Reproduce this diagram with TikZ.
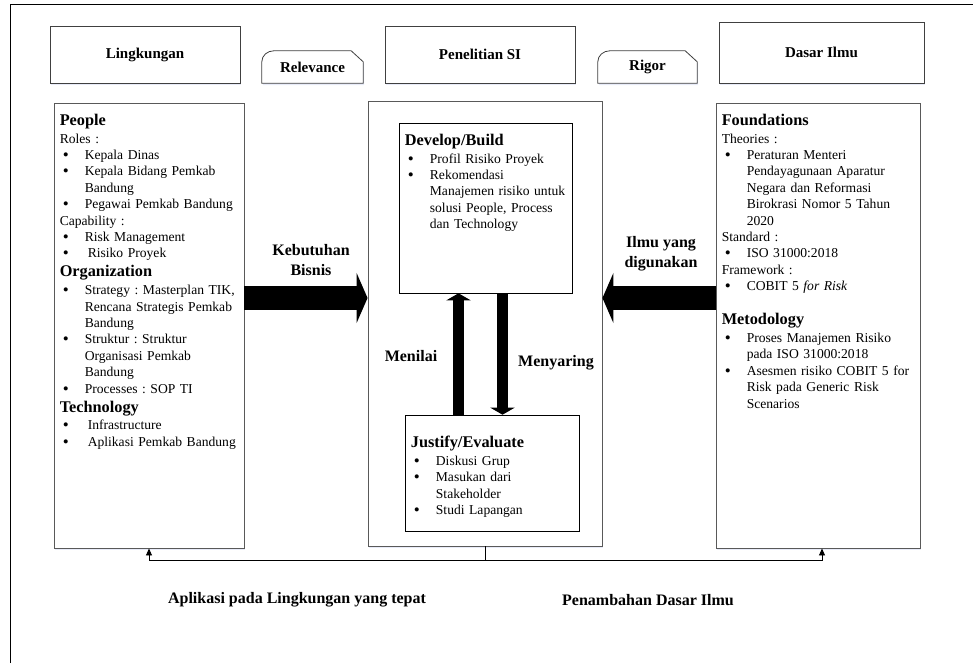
\documentclass[tikz,border=0pt]{standalone}
\usepackage{fontspec}
\setmainfont{Liberation Serif}
\usepackage{tikz}
\usetikzlibrary{arrows.meta, shadows, backgrounds}
\setlength{\parindent}{0pt}
\frenchspacing
\newcommand{\bodyfont}{\fontsize{13.6}{16.4}\selectfont}
\newcommand{\hd}[1]{\par{\fontsize{16.3}{19}\selectfont\bfseries #1\par}\vspace{1.4pt}}
\newcommand{\itm}[2][0pt]{\par\hangindent=25pt\hangafter=1\leavevmode\hspace*{3pt}\makebox[22pt][l]{\raisebox{-1.1pt}{\fontsize{17}{0}\selectfont\textbullet}}\hspace*{#1}#2}

\tikzset{
	soft/.style={drop shadow={shadow xshift=1pt, shadow yshift=-2pt, fill=cyan!40!blue!20, opacity=0.45}},
	topbox/.style={draw=black!75, line width=0.8pt, fill=white, soft, inner sep=0pt, font=\fontsize{15}{18}\selectfont\bfseries},
	tabtxt/.style={inner sep=0pt, font=\fontsize{15}{18}\selectfont\bfseries},
	tabshape/.style={draw=black!75, line width=0.8pt, fill=white, soft},
	bigbox/.style={draw=black!65, line width=0.9pt, fill=white, soft, inner sep=0pt},
	innerbox/.style={draw=black, line width=0.6pt, fill=white, inner sep=0pt},
	boxtext/.style={anchor=north west, inner sep=0pt, text width=210pt, align=left, font=\bodyfont},
	lbl/.style={inner sep=0pt, align=center, font=\fontsize{16}{20}\selectfont\bfseries},
	bigarrow/.style={line width=24pt, -{Triangle[width=50pt,length=11pt]}},
	midarrow/.style={line width=11pt, -{Triangle[width=24pt,length=7pt]}},
	bus/.style={line width=0.9pt, -{Triangle[width=6pt,length=7pt]}}
}

\begin{document}
\begin{tikzpicture}[x=1pt, y=-1pt]
	\useasboundingbox (0,0) rectangle (973,663);
	\draw [line width=1pt] (10,663) -- (10,5) -- (973,5);

	\path (145,54.5) node[topbox, minimum width=190pt, minimum height=57pt] (ling) {Lingkungan};
	\path (480,54.5) node[topbox, minimum width=190pt, minimum height=57pt] (pen) {Penelitian SI};
	\path (821.5,52.5) node[topbox, minimum width=205pt, minimum height=61pt] (dasar) {Dasar Ilmu};
	\path (312.5,67) node[tabtxt, minimum width=101pt, minimum height=32pt] (rel) {Relevance};
	\path (647.5,67) node[tabtxt, minimum width=99pt, minimum height=32pt] (rig) {Rigor};
	\begin{scope}[on background layer]
		\foreach \t in {rel, rig}
			\draw [tabshape] (\t.south west) -- ([yshift=-11pt]\t.north west) to[out=90, in=180] ([xshift=12pt]\t.north west)
				-- ([xshift=-12pt]\t.north east) -- ([yshift=-11pt]\t.north east) -- (\t.south east) -- cycle;
	\end{scope}

	\path (149,325.5) node[bigbox, minimum width=190pt, minimum height=445pt] (people) {};
	\path (485,323.5) node[bigbox, minimum width=234pt, minimum height=445pt] (ctr) {};
	\path (818,325.5) node[bigbox, minimum width=204pt, minimum height=445pt] (found) {};
	\path (485.5,208) node[innerbox, minimum width=173pt, minimum height=170pt] (dev) {};
	\path (492,473) node[innerbox, minimum width=174pt, minimum height=116pt] (just) {};

	\node[boxtext] (peopletxt) at ([xshift=6pt, yshift=-3.5pt]people.north west) {%
		\hd{People}
		\par Roles :
		\itm{Kepala Dinas}
		\itm{Kepala Bidang Pemkab\newline Bandung}
		\itm{Pegawai Pemkab Bandung}
		\par Capability :
		\itm{Risk Management}
		\itm[3pt]{Risiko Proyek}
		\hd{Organization}
		\itm{Strategy : Masterplan TIK,\newline Rencana Strategis Pemkab\newline Bandung}
		\itm{Struktur : Struktur\newline Organisasi Pemkab\newline Bandung}
		\itm{Processes : SOP TI}
		\hd{Technology}
		\itm[3pt]{Infrastructure}
		\itm[3pt]{Aplikasi Pemkab Bandung}\par};
	\node[boxtext] (devtxt) at ([xshift=6pt, yshift=-3.5pt]dev.north west) {%
		\hd{Develop/Build}
		\itm{Profil Risiko Proyek}
		\itm{Rekomendasi\newline Manajemen risiko untuk\newline solusi People, Process\newline dan Technology}\par};
	\node[boxtext] (justtxt) at ([xshift=6pt, yshift=-13.5pt]just.north west) {%
		\hd{Justify/Evaluate}
		\itm{Diskusi Grup}
		\itm{Masukan dari\newline Stakeholder}
		\itm{Studi Lapangan}\par};
	\node[boxtext] (foundtxt) at ([xshift=6pt, yshift=-3.5pt]found.north west) {%
		\hd{Foundations}
		\par Theories :
		\itm{Peraturan Menteri\newline Pendayagunaan Aparatur\newline Negara dan Reformasi\newline Birokrasi Nomor 5 Tahun\newline 2020}
		\par Standard :
		\itm{ISO 31000:2018}
		\par Framework :
		\itm{COBIT 5 \textit{for Risk}}
		\par\vspace{15pt}
		\hd{Metodology}
		\itm{Proses Manajemen Risiko\newline pada ISO 31000:2018}
		\itm{Asesmen risiko COBIT 5 for\newline Risk pada Generic Risk\newline Scenarios}\par};

	\coordinate (kbs) at ([yshift=27.5pt]people.east);
	\draw [bigarrow] (kbs) -- (kbs -| ctr.west);
	\coordinate (iys) at ([yshift=27.5pt]found.west);
	\draw [bigarrow] (iys) -- (iys -| ctr.east);
	\coordinate (up) at ([xshift=-33.5pt]just.north);
	\draw [midarrow] (up) -- (up |- dev.south);
	\coordinate (dn) at ([xshift=17pt]dev.south);
	\draw [midarrow] (dn) -- (dn |- just.north);

	\coordinate (hub) at ([yshift=-14pt]ctr.south);
	\draw [line width=0.9pt] (ctr.south) -- (hub);
	\draw [bus] (hub) -| (people.south);
	\draw [bus] (hub) -| ([xshift=4pt]found.south);

	\path (311,260) node[lbl] (kb) {Kebutuhan\\Bisnis};
	\path (661,254) node[lbl] (iy) {Ilmu yang\\digunakan};
	\path (411,356) node[lbl] (mn) {Menilai};
	\path (556,363) node[lbl] (my) {Menyaring};
	\path (297,600) node[lbl] (apl) {Aplikasi pada Lingkungan yang tepat};
	\path (648,600) node[lbl] (pdi) {Penambahan Dasar Ilmu};
\end{tikzpicture}
\end{document}
